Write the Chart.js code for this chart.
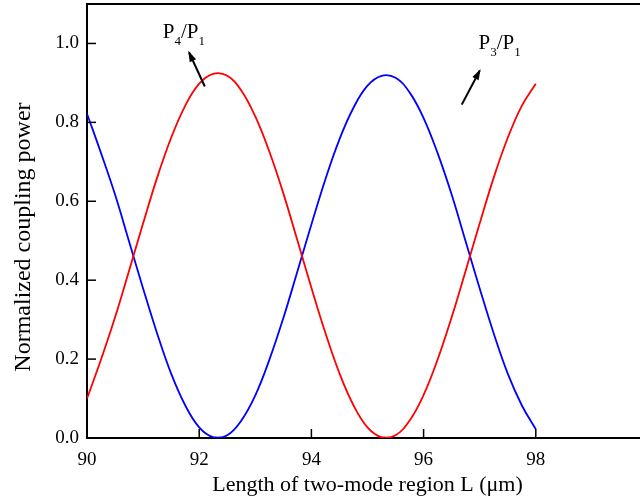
<!DOCTYPE html>
<html>
<head>
<meta charset="utf-8">
<script src="https://cdn.jsdelivr.net/npm/chart.js@4.4.1/dist/chart.umd.min.js"></script>
<style>
html,body{margin:0;padding:0;overflow:hidden;background:#fff;}
#wrap{width:652px;height:500px;position:relative;}
</style>
</head>
<body>
<div id="wrap"><canvas id="c" width="652" height="500"></canvas></div>
<script>
// Length of two-mode region L (µm)
const lengths = [90,90.25,90.5,90.75,91,91.25,91.5,91.75,92,92.25,92.5,92.75,93,93.25,93.5,93.75,94,94.25,94.5,94.75,95,95.25,95.5,95.75,96,96.25,96.5,96.75,97,97.25,97.5,97.75,98];
// P4/P1 (red)
const p4p1 = [0.100,0.199,0.306,0.424,0.544,0.660,0.761,0.842,0.898,0.923,0.918,0.881,0.815,0.726,0.620,0.501,0.381,0.266,0.164,0.083,0.027,0.002,0.007,0.044,0.109,0.199,0.306,0.424,0.544,0.660,0.761,0.842,0.898];
// P3/P1 (blue)
const p3p1 = [0.822,0.722,0.617,0.498,0.379,0.265,0.163,0.083,0.027,0.002,0.007,0.044,0.108,0.198,0.304,0.422,0.541,0.656,0.757,0.837,0.893,0.918,0.913,0.876,0.811,0.722,0.617,0.498,0.379,0.265,0.163,0.083,0.022];
const xTicks = [90,92,94,96,98];
const yTicks = [0,0.2,0.4,0.6,0.8,1.0];
const xTitle = 'Length of two-mode region L (\u03bcm)';
const yTitle = 'Normalized coupling power';
// annotation labels
const notes = [
  {a:'P', s1:'4', b:'/P', s2:'1', tx:91.35, ty:1.015, fx:92.10, fy:0.891, ex:91.82, ey:0.977},
  {a:'P', s1:'3', b:'/P', s2:'1', tx:96.98, ty:0.985, fx:96.68, fy:0.845, ex:97.00, ey:0.931}
];

const FONT = '"Liberation Serif", "Times New Roman", serif';

const deco = {
  id:'deco',
  afterDraw(chart){
    const {ctx, chartArea:ca, scales:{x,y}} = chart;
    ctx.save();
    ctx.strokeStyle='#000';
    ctx.lineWidth=2;
    // top and right border
    ctx.beginPath(); ctx.moveTo(ca.left-1, ca.top); ctx.lineTo(ca.right, ca.top); ctx.stroke();
    ctx.beginPath(); ctx.moveTo(ca.right, ca.top); ctx.lineTo(ca.right, ca.bottom); ctx.stroke();
    // inward ticks
    ctx.lineWidth=1.5;
    xTicks.forEach(v=>{const px=x.getPixelForValue(v); ctx.beginPath(); ctx.moveTo(px, ca.bottom); ctx.lineTo(px, ca.bottom-9); ctx.stroke();});
    yTicks.forEach(v=>{const py=y.getPixelForValue(v); ctx.beginPath(); ctx.moveTo(ca.left, py); ctx.lineTo(ca.left+9, py); ctx.stroke();});
    // y title
    ctx.fillStyle='#000';
    ctx.save();
    ctx.translate(24, ca.top + (ca.bottom-ca.top)*0.537);
    ctx.rotate(-Math.PI/2);
    ctx.font='24px '+FONT; ctx.textAlign='center'; ctx.textBaseline='middle';
    ctx.fillText(yTitle,0,0);
    ctx.restore();
    // annotations
    ctx.textBaseline='alphabetic'; ctx.textAlign='left';
    notes.forEach(n=>{
      let px=x.getPixelForValue(n.tx), py=y.getPixelForValue(n.ty);
      ctx.font='21px '+FONT; ctx.fillText(n.a,px,py); px+=ctx.measureText(n.a).width;
      ctx.font='13px '+FONT; ctx.fillText(n.s1,px,py+7); px+=ctx.measureText(n.s1).width;
      ctx.font='21px '+FONT; ctx.fillText(n.b,px,py); px+=ctx.measureText(n.b).width;
      ctx.font='13px '+FONT; ctx.fillText(n.s2,px,py+7);
      const x1=x.getPixelForValue(n.fx), y1=y.getPixelForValue(n.fy);
      const x2=x.getPixelForValue(n.ex), y2=y.getPixelForValue(n.ey);
      ctx.lineWidth=2;
      ctx.beginPath(); ctx.moveTo(x1,y1); ctx.lineTo(x2,y2); ctx.stroke();
      const ang=Math.atan2(y2-y1,x2-x1), L=9, W=3.5;
      ctx.beginPath();
      ctx.moveTo(x2+Math.cos(ang)*2,y2+Math.sin(ang)*2);
      ctx.lineTo(x2-L*Math.cos(ang)+W*Math.sin(ang), y2-L*Math.sin(ang)-W*Math.cos(ang));
      ctx.lineTo(x2-L*Math.cos(ang)-W*Math.sin(ang), y2-L*Math.sin(ang)+W*Math.cos(ang));
      ctx.closePath(); ctx.fill();
    });
    ctx.restore();
  }
};

new Chart(document.getElementById('c'), {
  type:'scatter',
  data:{
    datasets:[
      {label:'P4/P1', data:lengths.map((v,i)=>({x:v,y:p4p1[i]})), showLine:true, borderColor:'#ff0000', borderWidth:1.8, pointRadius:0, tension:0.4},
      {label:'P3/P1', data:lengths.map((v,i)=>({x:v,y:p3p1[i]})), showLine:true, borderColor:'#0000ff', borderWidth:1.8, pointRadius:0, tension:0.4}
    ]
  },
  options:{
    responsive:false, animation:false,
    layout:{padding:{top:4,right:4,left:0,bottom:0}},
    plugins:{legend:{display:false}, tooltip:{enabled:false}},
    scales:{
      x:{type:'linear', min:90, max:100,
        grid:{display:false, drawTicks:false},
        border:{display:true, color:'#000', width:2},
        ticks:{stepSize:2, includeBounds:false, padding:11, color:'#000', font:{family:FONT, size:19}, maxRotation:0,
          callback:v=> v<=98 ? String(v) : ''},
        title:{display:true, text:xTitle, color:'#000', font:{family:FONT, size:22}, padding:{top:0,bottom:2}},
        afterFit(s){s.height=62; s.paddingLeft=0; s.paddingRight=0;}
      },
      y:{type:'linear', min:0, max:1.1,
        grid:{display:false, drawTicks:false},
        border:{display:true, color:'#000', width:2},
        ticks:{stepSize:0.2, includeBounds:false, padding:8, color:'#000', font:{family:FONT, size:19},
          callback:v=>Number(v).toFixed(1)},
        title:{display:false},
        afterFit(s){s.width=87; s.paddingTop=0; s.paddingBottom=0;}
      }
    }
  },
  plugins:[deco]
});
</script>
</body>
</html>
